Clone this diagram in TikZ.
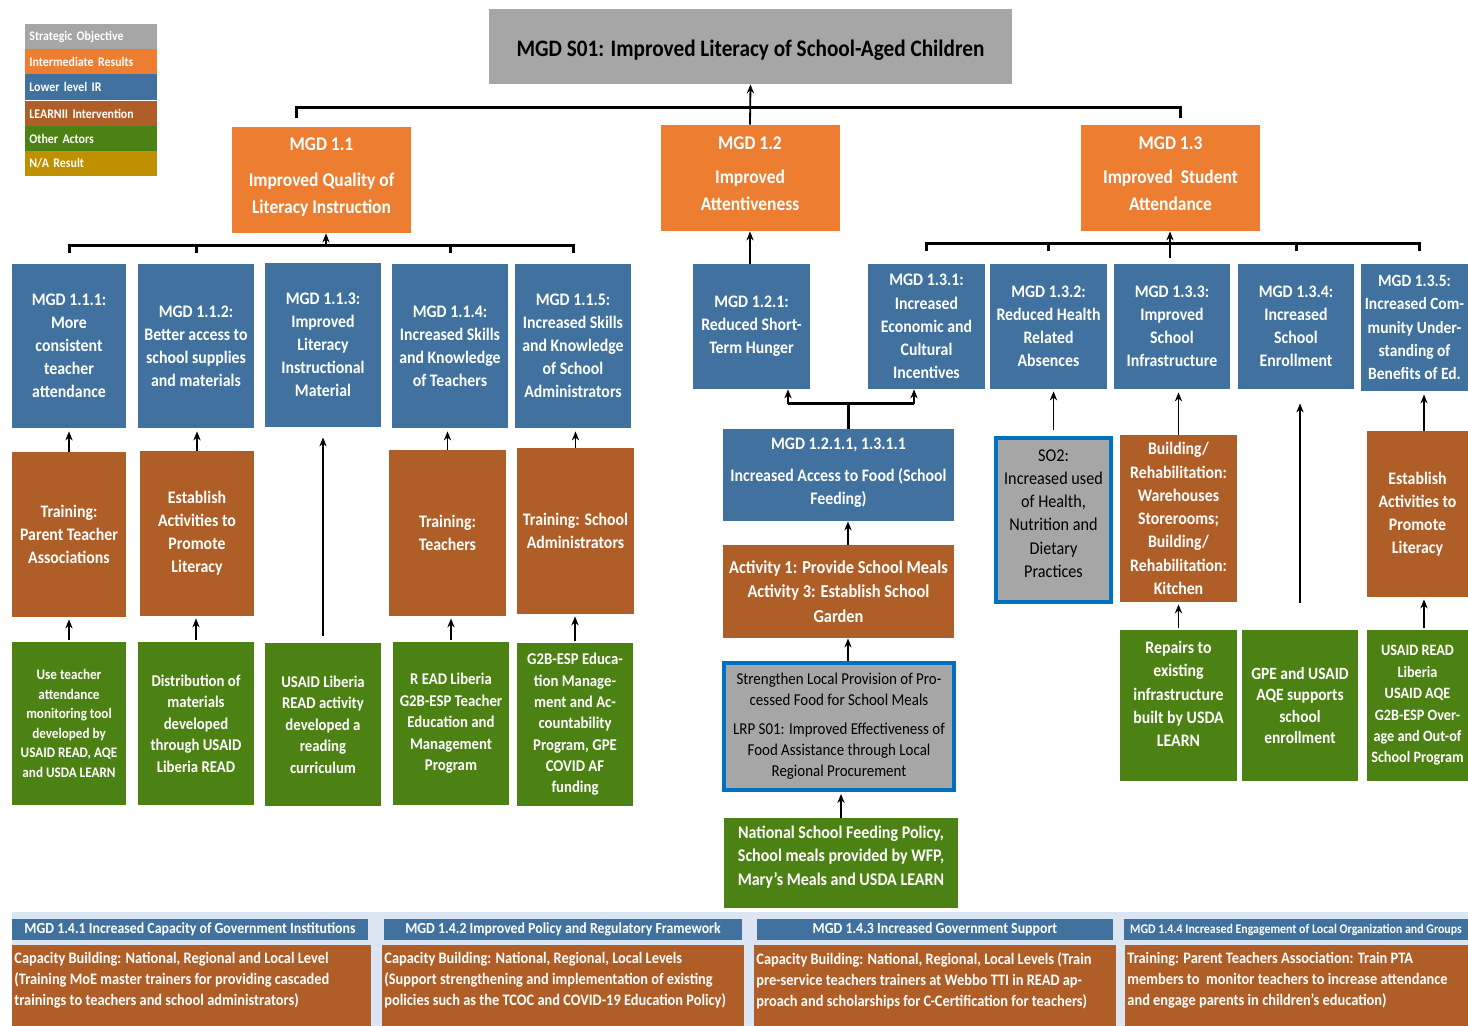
\documentclass[tikz,border=0pt]{standalone}
\usepackage{fontspec}
\setmainfont{Carlito}[FakeStretch=0.9]
\usetikzlibrary{arrows.meta}

\definecolor{sogrey}{HTML}{A6A6A6}
\definecolor{irorange}{HTML}{ED7D31}
\definecolor{llblue}{HTML}{41729F}
\definecolor{learnbrown}{HTML}{B05E27}
\definecolor{othergreen}{HTML}{4C8213}
\definecolor{nagold}{HTML}{BF9000}
\definecolor{bandblue}{HTML}{DCE6F2}
\definecolor{lrpblue}{HTML}{0070C0}

\newcommand{\bottomtext}[2]{\parbox[t][38pt][t]{#1}{\raggedright #2}}

\begin{document}
\begin{tikzpicture}[x=0.5pt, y=-0.5pt,
  box/.style={inner sep=0pt, align=center, text=white, font=\fontsize{8.8}{11.5}\selectfont\bfseries},
  sobox/.style={box, fill=sogrey, text=black},
  irbox/.style={box, fill=irorange, minimum width=89.5pt, minimum height=53pt, font=\fontsize{9.7}{13.5}\selectfont\bfseries},
  llbox/.style={box, fill=llblue},
  lnbox/.style={box, fill=learnbrown},
  oabox/.style={box, fill=othergreen},
  legend/.style={inner xsep=2pt, inner ysep=0pt, anchor=west, text width=62pt, minimum height=12.8pt, align=left, text=white, font=\fontsize{6.6}{7}\selectfont\bfseries},
  hdbox/.style={box, fill=llblue, minimum height=10.5pt, font=\fontsize{7.7}{9}\selectfont\bfseries},
  btbox/.style={anchor=north west, fill=learnbrown, inner xsep=1pt, inner ysep=3.5pt, text=white, font=\fontsize{8}{10.5}\selectfont\bfseries},
  arr/.style={line width=0.9pt, -{Stealth[length=4.5pt, width=3.6pt]}},
  brk/.style={line width=1.5pt},
  ]
\useasboundingbox (0,0) rectangle (1468,1026);
\clip (0,0) rectangle (1468,1026);

% legend
\node[legend, fill=sogrey] (lg1) at (25,37) {Strategic Objective};
\node[legend, fill=irorange] (lg2) at (25,61.5) {Intermediate Results};
\node[legend, fill=llblue] (lg3) at (25,87) {Lower level IR};
\node[legend, fill=learnbrown] (lg4) at (25,113.5) {LEARNII Intervention};
\node[legend, fill=othergreen] (lg5) at (25,139) {Other Actors};
\node[legend, fill=nagold] (lg6) at (25,163.5) {N/A Result};

% strategic objective and intermediate results
\node[sobox, minimum width=261.5pt, minimum height=37.5pt, font=\fontsize{11.8}{14}\selectfont\bfseries] (so1) at (750.5,46.5) {\raisebox{-2pt}[\height][\depth]{MGD S01: Improved Literacy of School-Aged Children}};
\node[irbox] (m11) at (321.5,180) {MGD 1.1\\[4.5pt]Improved Quality of\\Literacy Instruction\\[-9.5pt]\mbox{}};
\node[irbox] (m12) at (750,178) {MGD 1.2\\[3.5pt]Improved\\Attentiveness\\[-9.5pt]\mbox{}};
\node[irbox] (m13) at (1170.5,178) {MGD 1.3\\[3.5pt]Improved\ \ Student\\Attendance\\[-9.5pt]\mbox{}};

% lower level IR
\node[llbox, minimum width=57pt, minimum height=82pt] (a111) at (69,346) {MGD 1.1.1:\\More\\consistent\\teacher\\attendance};
\node[llbox, minimum width=58pt, minimum height=82pt] (a112) at (196,346) {MGD 1.1.2:\\Better access to\\school supplies\\and materials};
\node[llbox, minimum width=58pt, minimum height=82pt] (a113) at (323,345) {MGD 1.1.3:\\Improved\\Literacy\\Instructional\\Material};
\node[llbox, minimum width=58pt, minimum height=82pt] (a114) at (450,346) {MGD 1.1.4:\\Increased Skills\\and Knowledge\\of Teachers};
\node[llbox, minimum width=58pt, minimum height=82pt] (a115) at (573,346) {MGD 1.1.5:\\Increased Skills\\and Knowledge\\of School\\Administrators};
\node[llbox, minimum width=58.5pt, minimum height=62.5pt] (a121) at (751.5,326.5) {MGD 1.2.1:\\Reduced Short-\\Term Hunger};
\node[llbox, minimum width=58.5pt, minimum height=62.5pt, font=\fontsize{8.8}{11.6}\selectfont\bfseries] (a131) at (926.5,326.5) {MGD 1.3.1:\\Increased\\Economic and\\Cultural\\Incentives};
\node[llbox, minimum width=58.5pt, minimum height=62.5pt] (a132) at (1048.5,326.5) {MGD 1.3.2:\\Reduced Health\\Related\\Absences};
\node[llbox, minimum width=58pt, minimum height=62.5pt] (a133) at (1172,326.5) {MGD 1.3.3:\\Improved\\School\\Infrastructure};
\node[llbox, minimum width=58pt, minimum height=62.5pt] (a134) at (1296,326.5) {MGD 1.3.4:\\Increased\\School\\Enrollment};
\node[llbox, minimum width=53.5pt, minimum height=63.5pt, font=\fontsize{8.6}{11.6}\selectfont\bfseries] (a135) at (1414.5,327.5) {MGD 1.3.5:\\Increased Com-\\munity Under-\\standing of\\Benefits of Ed.};

% LEARNII interventions
\node[lnbox, minimum width=57pt, minimum height=82.5pt] (b111) at (69,534.5) {Training:\\Parent Teacher\\Associations};
\node[lnbox, minimum width=57pt, minimum height=82.5pt] (b112) at (197,533.5) {Establish\\Activities to\\Promote\\Literacy};
\node[lnbox, minimum width=58.5pt, minimum height=83pt] (b114) at (447.5,533) {Training:\\Teachers};
\node[lnbox, minimum width=58.5pt, minimum height=83pt] (b115) at (575.5,531) {Training: School\\Administrators};

% other actors
\node[oabox, minimum width=57pt, minimum height=81.5pt, font=\fontsize{7.3}{9.8}\selectfont\bfseries] (c111) at (69,723.5) {Use teacher\\attendance\\monitoring tool\\developed by\\USAID READ, AQE\\and USDA LEARN};
\node[oabox, minimum width=58pt, minimum height=81.5pt, font=\fontsize{8.2}{10.75}\selectfont\bfseries] (c112) at (196,723.5) {Distribution of\\materials\\developed\\through USAID\\Liberia READ};
\node[oabox, minimum width=58pt, minimum height=81.5pt, font=\fontsize{8.2}{10.75}\selectfont\bfseries] (c113) at (323,724.5) {USAID Liberia\\READ activity\\developed a\\reading\\curriculum};
\node[oabox, minimum width=58pt, minimum height=81.5pt, font=\fontsize{8.2}{10.75}\selectfont\bfseries] (c114) at (451,723.5) {R EAD Liberia\\G2B-ESP Teacher\\Education and\\Management\\Program};
\node[oabox, minimum width=58pt, minimum height=81.5pt, font=\fontsize{8.2}{10.65}\selectfont\bfseries] (c115) at (575,724.5) {G2B-ESP Educa-\\tion Manage-\\ment and Ac-\\countability\\Program, GPE\\COVID AF\\funding};

% school feeding column
\node[llbox, minimum width=115.5pt, minimum height=46pt] (a1211) at (838.5,475) {MGD 1.2.1.1, 1.3.1.1\\[4.5pt]Increased Access to Food (School\\Feeding)\\[-8pt]\mbox{}};
\node[lnbox, minimum width=115.5pt, minimum height=46.5pt, font=\fontsize{9.1}{12.2}\selectfont\bfseries] (bact) at (838.5,591.5) {Activity 1: Provide School Meals\\Activity 3: Establish School\\Garden};
\node[sobox, draw=lrpblue, line width=2pt, minimum width=115pt, minimum height=63.5pt, font=\fontsize{8.3}{10.5}\selectfont] (lrp) at (839,726.5) {Strengthen Local Provision of Pro-\\cessed Food for School Meals\\[4pt]LRP S01: Improved Effectiveness of\\Food Assistance through Local\\Regional Procurement};
\node[oabox, minimum width=117pt, minimum height=45pt, font=\fontsize{8.9}{11.75}\selectfont\bfseries] (cnat) at (841,863) {National School Feeding Policy,\\School meals provided by WFP,\\Mary’s Meals and USDA LEARN\\[-4pt]\mbox{}};

% student attendance column
\node[sobox, draw=lrpblue, line width=2pt, minimum width=57.5pt, minimum height=82pt, font=\fontsize{9}{11.6}\selectfont] (so2) at (1053.5,520) {SO2:\\Increased used\\of Health,\\Nutrition and\\Dietary\\Practices\\[-5pt]\mbox{}};
\node[lnbox, minimum width=58.5pt, minimum height=83.5pt, font=\fontsize{8.8}{11.65}\selectfont\bfseries] (b133) at (1178.5,518.5) {Building/\\Rehabilitation:\\Warehouses\\Storerooms;\\Building/\\Rehabilitation:\\Kitchen};
\node[lnbox, minimum width=50.5pt, minimum height=83pt] (b135) at (1417.5,514) {Establish\\Activities to\\Promote\\Literacy};
\node[oabox, minimum width=58.5pt, minimum height=75.5pt, font=\fontsize{8.8}{11.6}\selectfont\bfseries] (c133) at (1178.5,705.5) {Repairs to\\existing\\infrastructure\\built by USDA\\LEARN\\\mbox{}};
\node[oabox, minimum width=58pt, minimum height=75.5pt, font=\fontsize{8.6}{10.8}\selectfont\bfseries] (c134) at (1300,705.5) {GPE and USAID\\AQE supports\\school\\enrollment};
\node[oabox, minimum width=50.5pt, minimum height=75.5pt, font=\fontsize{7.9}{10.7}\selectfont\bfseries] (c135) at (1417.5,705.5) {USAID READ\\Liberia\\USAID AQE\\G2B-ESP Over-\\age and Out-of\\School Program};

% MGD 1.4 band
\fill[bandblue] (12,912) rectangle (1468,1026);
\node[hdbox, minimum width=178pt] (h141) at (190,929.5) {MGD 1.4.1 Increased Capacity of Government Institutions};
\node[hdbox, minimum width=179pt] (h142) at (563,929.5) {MGD 1.4.2 Improved Policy and Regulatory Framework};
\node[hdbox, minimum width=178pt] (h143) at (935,929.5) {MGD 1.4.3 Increased Government Support};
\node[hdbox, minimum width=172pt, font=\fontsize{6.6}{8}\selectfont\bfseries] (h144) at (1296,929.5) {MGD 1.4.4 Increased Engagement of Local Organization and Groups};
\node[btbox] (d141) at (12,945) {\bottomtext{177.5pt}{Capacity Building: National, Regional and Local Level\\(Training MoE master trainers for providing cascaded\\trainings to teachers and school administrators)}};
\node[btbox] (d142) at (382,945) {\bottomtext{179pt}{Capacity Building: National, Regional, Local Levels\\(Support strengthening and implementation of existing\\policies such as the TCOC and COVID-19 Education Policy)}};
\node[btbox] (d143) at (754,945) {\bottomtext{179pt}{Capacity Building: National, Regional, Local Levels (Train\\pre-service teachers trainers at Webbo TTI in READ ap-\\proach and scholarships for C-Certification for teachers)}};
\node[btbox] (d144) at (1125,945) {\bottomtext{170pt}{Training: Parent Teachers Association: Train PTA\\members to\ \ monitor teachers to increase attendance\\and engage parents in children’s education)}};

% brackets
\coordinate (k0) at (so1.south |- 0,108);
\coordinate (t11) at (296,118);
\coordinate (t13) at (1180,118);
\draw[brk] (t11) |- (k0) -| (t13);
\draw[arr] (m12.north) -- (so1.south);

\coordinate (k11) at (326,246);
\draw[brk] ([yshift=-3.5pt]a111.north |- k11) -- (a111.north |- k11) -- (a115.north |- k11) -- ++(0,7);
\foreach \n in {a112,a114}
  \draw[brk] (\n.north |- k11) -- ++(0,7);
\draw[arr] (k11) -- (k11 |- m11.south);
\draw[arr] (m12.south |- a121.north) -- (m12.south);

\coordinate (k13) at (1170,244);
\draw[brk] ([yshift=-3.5pt]a131.north |- k13) -- (a131.north |- k13) -- (1419,244) -- ++(0,7);
\foreach \n in {a132,a134}
  \draw[brk] (\n.north |- k13) -- ++(0,7);
\draw[arr] ([yshift=-7pt]k13) -- (k13 |- m13.south);

% arrows, interventions up to lower level IR
\foreach \b/\a in {b111/a111, b112/a112, b114/a114, b115/a115, b133/a133}
  \draw[arr, shorten >=1.5pt] (\b.north) -- (\b.north |- \a.south);
\foreach \c/\b in {c111/b111, c112/b112, c114/b114, c115/b115, c133/b133}
  \draw[arr, shorten <=1pt, shorten >=1pt] (\c.north) -- (\c.north |- \b.south);
\coordinate (g135) at (1424,0);
\draw[arr, shorten >=1.5pt] (g135 |- b135.north) -- (g135 |- a135.south);
\draw[arr, shorten <=1pt, shorten >=1pt] (g135 |- c135.north) -- (g135 |- b135.south);
\draw[arr, shorten <=3.5pt, shorten >=5pt] (c113.north) -- (a113.south);
\draw[arr, shorten <=3pt, shorten >=1pt] (so2.north) -- (so2.north |- a132.south);
\coordinate (g134) at (1300,603);
\draw[arr, shorten >=7pt] (g134) -- (g134 |- a134.south);

% school feeding links
\coordinate (j0) at (848,404);
\coordinate (j1) at (788,404);
\coordinate (j2) at (914,404);
\draw[brk] (j0 |- a1211.north) -- (j0);
\draw[brk] (j1) -- (j2);
\draw[arr, line width=1.4pt] (j1) -- (j1 |- a121.south);
\draw[arr, line width=1.4pt] (j2) -- (j2 |- a131.south);
\draw[arr] (j0 |- bact.north) -- (j0 |- a1211.south);
\draw[arr] (j0 |- lrp.north) -- (j0 |- bact.south);
\draw[arr, shorten >=1pt] (cnat.north) -- (cnat.north |- lrp.south);
\end{tikzpicture}
\end{document}
